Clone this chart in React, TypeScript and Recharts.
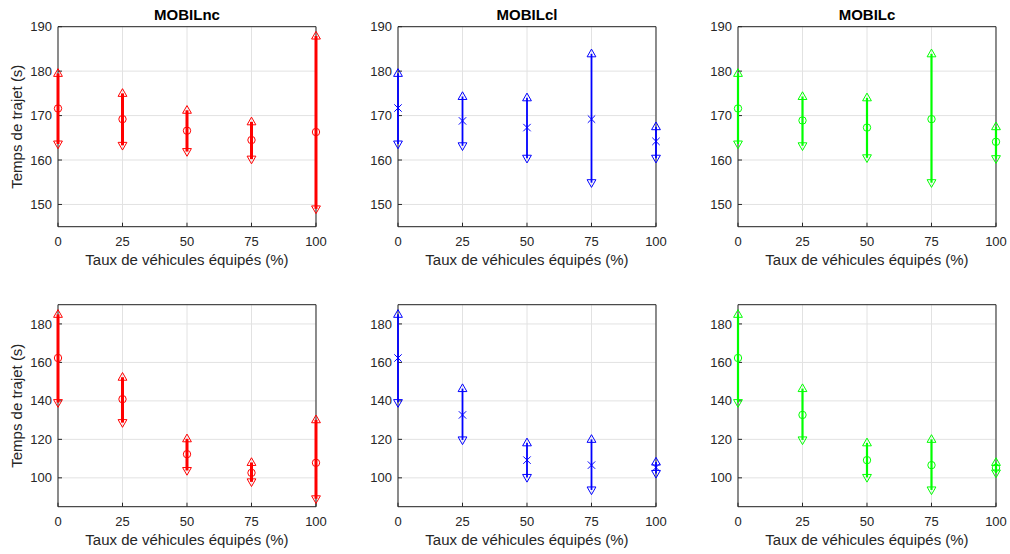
import { ScatterChart, Scatter, XAxis, YAxis, CartesianGrid } from "recharts";

// x categories: share of equipped vehicles (%)
const rates = [0, 25, 50, 75, 100];
const rateTicks = [0, 25, 50, 75, 100];

// top row (travel time, scenario 1)
const ncTopMean = [171.6, 169.2, 166.6, 164.5, 166.3];
const ncTopMin = [163.6, 163.3, 161.9, 160.2, 149.0];
const ncTopMax = [179.5, 175.0, 171.2, 168.6, 187.9];

const clTopMean = [171.7, 168.8, 167.3, 169.2, 164.2];
const clTopMin = [163.6, 163.2, 160.4, 154.9, 160.4];
const clTopMax = [179.5, 174.3, 174.0, 183.9, 167.5];

const cTopMean = [171.6, 168.9, 167.3, 169.2, 164.1];
const cTopMin = [163.6, 163.2, 160.5, 154.9, 160.3];
const cTopMax = [179.5, 174.3, 174.0, 183.9, 167.5];

// bottom row (travel time, scenario 2)
const ncBotMean = [162.3, 140.9, 112.3, 102.6, 107.8];
const ncBotMin = [139.1, 128.7, 103.8, 97.9, 89.1];
const ncBotMax = [185.0, 152.3, 120.3, 108.0, 130.2];

const clBotMean = [162.3, 132.7, 109.2, 106.6, 105.4];
const clBotMin = [139.1, 119.7, 100.2, 93.7, 102.3];
const clBotMax = [185.0, 146.4, 118.2, 120.0, 108.2];

const cBotMean = [162.3, 132.7, 109.2, 106.6, 105.2];
const cBotMin = [139.1, 119.7, 100.2, 93.7, 102.5];
const cBotMax = [185.0, 146.4, 118.2, 120.0, 108.0];

const topDomain = [145, 190];
const topTicks = [150, 160, 170, 180, 190];
const botDomain = [85, 190];
const botTicks = [100, 120, 140, 160, 180];

const FONT = '"Liberation Sans", Arial, Helvetica, sans-serif';
const AXIS = "#262626";
const GRID = "#e2e2e2";

type Marker = "o" | "x" | "up" | "down";

function markerShape(kind: Marker, color: string) {
  return (props: any) => {
    const { cx, cy } = props;
    if (cx == null || cy == null) return <g />;
    const common = { fill: "none", stroke: color, strokeWidth: 1 };
    if (kind === "o") return <circle cx={cx} cy={cy} r={3.7} {...common} />;
    if (kind === "x") {
      const s = 3.7;
      return (
        <path
          d={`M${cx - s},${cy - s}L${cx + s},${cy + s}M${cx - s},${cy + s}L${cx + s},${cy - s}`}
          {...common}
        />
      );
    }
    if (kind === "up")
      return <path d={`M${cx},${cy - 4.7}L${cx + 4.4},${cy + 3}L${cx - 4.4},${cy + 3}Z`} {...common} />;
    return <path d={`M${cx},${cy + 4.7}L${cx + 4.4},${cy - 3}L${cx - 4.4},${cy - 3}Z`} {...common} />;
  };
}

const noShape = () => <g />;

interface PanelProps {
  left: number;
  top: number;
  plotTop: number;
  plotH: number;
  title?: string;
  yLabel?: string;
  color: string;
  marker: Marker;
  lineWidth: number;
  mean: number[];
  lo: number[];
  hi: number[];
  domain: number[];
  ticks: number[];
}

function Panel(p: PanelProps) {
  const yW = 58;
  const plotW = 258;
  const mt = p.plotTop - p.top - 1;
  const width = yW + plotW + 1 + 12;
  const height = mt + 1 + p.plotH + 45;

  const meanPts = rates.map((x, i) => ({ x, y: p.mean[i] }));
  const hiPts = rates.map((x, i) => ({ x, y: p.hi[i] }));
  const loPts = rates.map((x, i) => ({ x, y: p.lo[i] }));
  // one min-max segment per rate
  const ranges = rates.map((x, i) => [
    { x, y: p.lo[i] },
    { x, y: p.hi[i] },
  ]);

  const tickStyle = { fontSize: 13, fill: AXIS };

  return (
    <div style={{ position: "absolute", left: p.left, top: p.top }}>
      <ScatterChart width={width} height={height} margin={{ top: mt, right: 12, bottom: 0, left: 0 }}>
        <CartesianGrid xAxisId="b" yAxisId="l" stroke={GRID} />
        <XAxis
          xAxisId="b"
          dataKey="x"
          type="number"
          domain={[0, 100]}
          ticks={rateTicks}
          height={45}
          tickSize={-4}
          tickMargin={14}
          tick={tickStyle}
          axisLine={{ stroke: AXIS }}
          tickLine={{ stroke: AXIS }}
          label={{ value: "Taux de véhicules équipés (%)", position: "insideBottom", offset: 7, fontSize: 15, fill: AXIS }}
        />
        <XAxis
          xAxisId="t"
          orientation="top"
          type="number"
          domain={[0, 100]}
          ticks={rateTicks}
          height={1}
          tickSize={-4}
          tick={false}
          axisLine={{ stroke: AXIS }}
          tickLine={{ stroke: AXIS }}
          label={
            p.title
              ? { value: p.title, position: "top", offset: 6, fontSize: 15, fontWeight: "bold", fill: "#000" }
              : undefined
          }
        />
        <YAxis
          yAxisId="l"
          dataKey="y"
          type="number"
          domain={p.domain}
          ticks={p.ticks}
          width={yW}
          tickSize={-4}
          tickMargin={10}
          tick={tickStyle}
          axisLine={{ stroke: AXIS }}
          tickLine={{ stroke: AXIS }}
          label={
            p.yLabel
              ? { value: p.yLabel, angle: -90, position: "insideLeft", offset: 17, fontSize: 15, fill: AXIS, style: { textAnchor: "middle" } }
              : undefined
          }
        />
        <YAxis
          yAxisId="r"
          orientation="right"
          type="number"
          domain={p.domain}
          ticks={p.ticks}
          width={1}
          tickSize={-4}
          tick={false}
          axisLine={{ stroke: AXIS }}
          tickLine={{ stroke: AXIS }}
        />
        {ranges.map((seg, i) => (
          <Scatter
            key={`r${i}`}
            data={seg}
            xAxisId="b"
            yAxisId="l"
            line={{ stroke: p.color, strokeWidth: p.lineWidth }}
            shape={noShape}
            isAnimationActive={false}
          />
        ))}
        <Scatter data={meanPts} xAxisId="b" yAxisId="l" shape={markerShape(p.marker, p.color)} isAnimationActive={false} />
        <Scatter data={hiPts} xAxisId="b" yAxisId="l" shape={markerShape("up", p.color)} isAnimationActive={false} />
        <Scatter data={loPts} xAxisId="b" yAxisId="l" shape={markerShape("down", p.color)} isAnimationActive={false} />
      </ScatterChart>
    </div>
  );
}

export default function App() {
  const cols = [0, 340, 680];
  const rows = [
    { top: 0, plotTop: 26.7, plotH: 200, domain: topDomain, ticks: topTicks },
    { top: 278, plotTop: 304.7, plotH: 202, domain: botDomain, ticks: botTicks },
  ];
  const red = "#ff0000";
  const blue = "#0000ff";
  const green = "#00ff00";
  const ylab = "Temps de trajet (s)";

  return (
    <div style={{ position: "relative", width: 1010, height: 554, background: "#fff", fontFamily: FONT }}>
      <style>{"body{margin:0}"}</style>
      <Panel left={cols[0]} {...rows[0]} title="MOBILnc" yLabel={ylab} color={red} marker="o" lineWidth={3}
        mean={ncTopMean} lo={ncTopMin} hi={ncTopMax} />
      <Panel left={cols[1]} {...rows[0]} title="MOBILcl" color={blue} marker="x" lineWidth={1.8}
        mean={clTopMean} lo={clTopMin} hi={clTopMax} />
      <Panel left={cols[2]} {...rows[0]} title="MOBILc" color={green} marker="o" lineWidth={2.2}
        mean={cTopMean} lo={cTopMin} hi={cTopMax} />
      <Panel left={cols[0]} {...rows[1]} yLabel={ylab} color={red} marker="o" lineWidth={3}
        mean={ncBotMean} lo={ncBotMin} hi={ncBotMax} />
      <Panel left={cols[1]} {...rows[1]} color={blue} marker="x" lineWidth={1.8}
        mean={clBotMean} lo={clBotMin} hi={clBotMax} />
      <Panel left={cols[2]} {...rows[1]} color={green} marker="o" lineWidth={2.2}
        mean={cBotMean} lo={cBotMin} hi={cBotMax} />
    </div>
  );
}
